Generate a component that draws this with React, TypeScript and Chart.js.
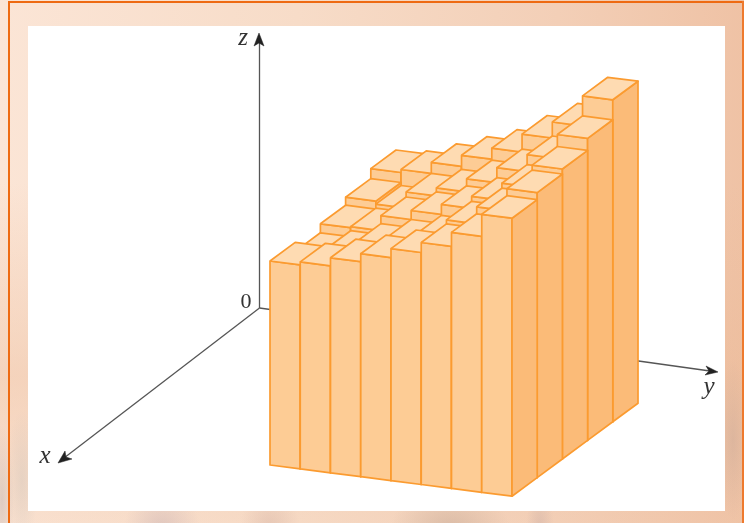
import React, { useEffect, useRef } from "react";
import { Chart, registerables } from "chart.js";

Chart.register(...registerables);

// Bar heights, one list per row along the x axis (front row first), columns along y
const rowX0 = [204, 207, 215, 223, 232, 242, 256, 278];
const rowX1 = [195, 201, 212, 220, 228, 246, 263, 285];
const rowX2 = [204, 205, 220, 229, 239, 251, 268, 290];
const rowX3 = [212, 209, 225, 233, 246, 261, 278, 302];
const rowX4 = [222, 225, 236, 247, 258, 276, 292, 322];
const rows = [rowX0, rowX1, rowX2, rowX3, rowX4];

const axisLabels = [
  { text: "z", x: 243, y: 38, font: "italic 25px 'Liberation Serif'" },
  { text: "x", x: 45, y: 456, font: "italic 25px 'Liberation Serif'" },
  { text: "y", x: 709, y: 387, font: "italic 25px 'Liberation Serif'" },
  { text: "0", x: 246, y: 302, font: "22px 'Liberation Serif'" },
];

const FRONT = "#fdcc95";
const SIDE = "#fbbb78";
const TOP = "#fedbb2";
const EDGE = "#fb9b30";
const AXIS = "#555555";
const HEAD = "#222222";

// Oblique projection of the 3D bar space on to the chart's two scales
const project = (i: number, j: number, h: number) => ({
  x: 270 + 30.25 * j + 25.2 * i,
  y: 465 + 3.9 * j - 18.6 * i - h,
});

const face = (pts: { x: number; y: number }[], fill: string) => ({
  data: [...pts, pts[0]],
  showLine: true,
  fill: "shape",
  backgroundColor: fill,
  borderColor: EDGE,
  borderWidth: 1.7,
  pointRadius: 0,
  borderJoinStyle: "round",
});

const axisLine = (pts: { x: number; y: number }[]) => ({
  data: pts,
  showLine: true,
  fill: false,
  borderColor: AXIS,
  borderWidth: 1.3,
  pointRadius: 0,
});

const arrowHead = (pts: { x: number; y: number }[]) => ({
  data: [...pts, pts[0]],
  showLine: true,
  fill: "shape",
  backgroundColor: HEAD,
  borderColor: HEAD,
  borderWidth: 0.5,
  pointRadius: 0,
});

function buildDatasets() {
  const painted: any[] = [];
  painted.push(axisLine([{ x: 259.5, y: 308 }, { x: 259.5, y: 40 }]));
  painted.push(axisLine([{ x: 259.5, y: 308 }, { x: 64, y: 458 }]));
  painted.push(axisLine([{ x: 259.5, y: 308 }, { x: 710, y: 371 }]));
  painted.push(arrowHead([{ x: 259, y: 33 }, { x: 264, y: 46 }, { x: 259, y: 43 }, { x: 254, y: 46 }]));
  painted.push(arrowHead([{ x: 58, y: 463 }, { x: 65, y: 451 }, { x: 66, y: 457 }, { x: 72, y: 459 }]));
  painted.push(arrowHead([{ x: 718, y: 372 }, { x: 706, y: 366 }, { x: 709, y: 371 }, { x: 705, y: 375 }]));
  for (let i = rows.length - 1; i >= 0; i--) {
    rows[i].forEach((h, j) => {
      painted.push(face([project(i, j, 0), project(i, j + 1, 0), project(i, j + 1, h), project(i, j, h)], FRONT));
      painted.push(face([project(i, j + 1, 0), project(i + 1, j + 1, 0), project(i + 1, j + 1, h), project(i, j + 1, h)], SIDE));
      painted.push(face([project(i, j, h), project(i, j + 1, h), project(i + 1, j + 1, h), project(i + 1, j, h)], TOP));
    });
  }
  // Chart.js paints the first dataset last
  return painted.reverse();
}

const textPlugin = {
  id: "axisText",
  afterDraw(chart: any) {
    const { ctx, scales } = chart;
    ctx.save();
    ctx.fillStyle = "#333333";
    ctx.textAlign = "center";
    ctx.textBaseline = "middle";
    axisLabels.forEach((l) => {
      ctx.font = l.font;
      ctx.fillText(l.text, scales.x.getPixelForValue(l.x), scales.y.getPixelForValue(l.y));
    });
    ctx.restore();
  },
};

const pageBackground = [
  "radial-gradient(ellipse 12px 75px at 2px 500px, rgba(205,190,185,0.6), rgba(205,190,185,0))",
  "radial-gradient(ellipse 16px 70px at 22px 480px, rgba(205,195,185,0.4), rgba(205,195,185,0))",
  "radial-gradient(ellipse 16px 80px at 733px 440px, rgba(195,165,150,0.4), rgba(195,165,150,0))",
  "radial-gradient(ellipse 38px 40px at 162px 528px, rgba(205,180,180,0.55), rgba(205,180,180,0))",
  "radial-gradient(ellipse 30px 40px at 270px 528px, rgba(215,180,165,0.5), rgba(215,180,165,0))",
  "radial-gradient(ellipse 60px 40px at 450px 528px, rgba(205,175,155,0.65), rgba(205,175,155,0))",
  "radial-gradient(ellipse 14px 40px at 540px 528px, rgba(205,175,165,0.5), rgba(205,175,165,0))",
  "linear-gradient(180deg, rgba(235,185,150,0) 35%, rgba(235,185,150,0.4) 72%, rgba(240,200,170,0.15) 100%)",
  "linear-gradient(90deg, #fbe5d6 0%, #f7dcc8 40%, #f3cfb7 75%, #efc2a5 100%)",
].join(",");

export default function App() {
  const ref = useRef<HTMLCanvasElement>(null);
  useEffect(() => {
    document.body.style.margin = "0";
    const chart = new Chart(ref.current as HTMLCanvasElement, {
      type: "scatter",
      data: { datasets: buildDatasets() },
      options: {
        animation: false,
        responsive: false,
        layout: { padding: 0 },
        plugins: { legend: { display: false }, tooltip: { enabled: false } },
        scales: {
          x: { type: "linear", display: false, min: 0, max: 744 },
          y: { type: "linear", display: false, min: 0, max: 523, reverse: true },
        },
      },
      plugins: [textPlugin],
    } as any);
    return () => chart.destroy();
  }, []);
  return (
    <div style={{ position: "relative", width: 744, height: 523, overflow: "hidden", background: pageBackground }}>
      <div style={{ position: "absolute", left: 8, top: 1, width: 2, height: 522, background: "#ee6a12" }} />
      <div style={{ position: "absolute", left: 8, top: 1, width: 736, height: 2, background: "#ee6a12" }} />
      <div style={{ position: "absolute", left: 742, top: 1, width: 2, height: 522, background: "#ee7a2e" }} />
      <div style={{ position: "absolute", left: 28, top: 26, width: 697, height: 485, background: "#ffffff" }} />
      <canvas ref={ref} width={744} height={523} style={{ position: "absolute", left: 0, top: 0 }} />
    </div>
  );
}
